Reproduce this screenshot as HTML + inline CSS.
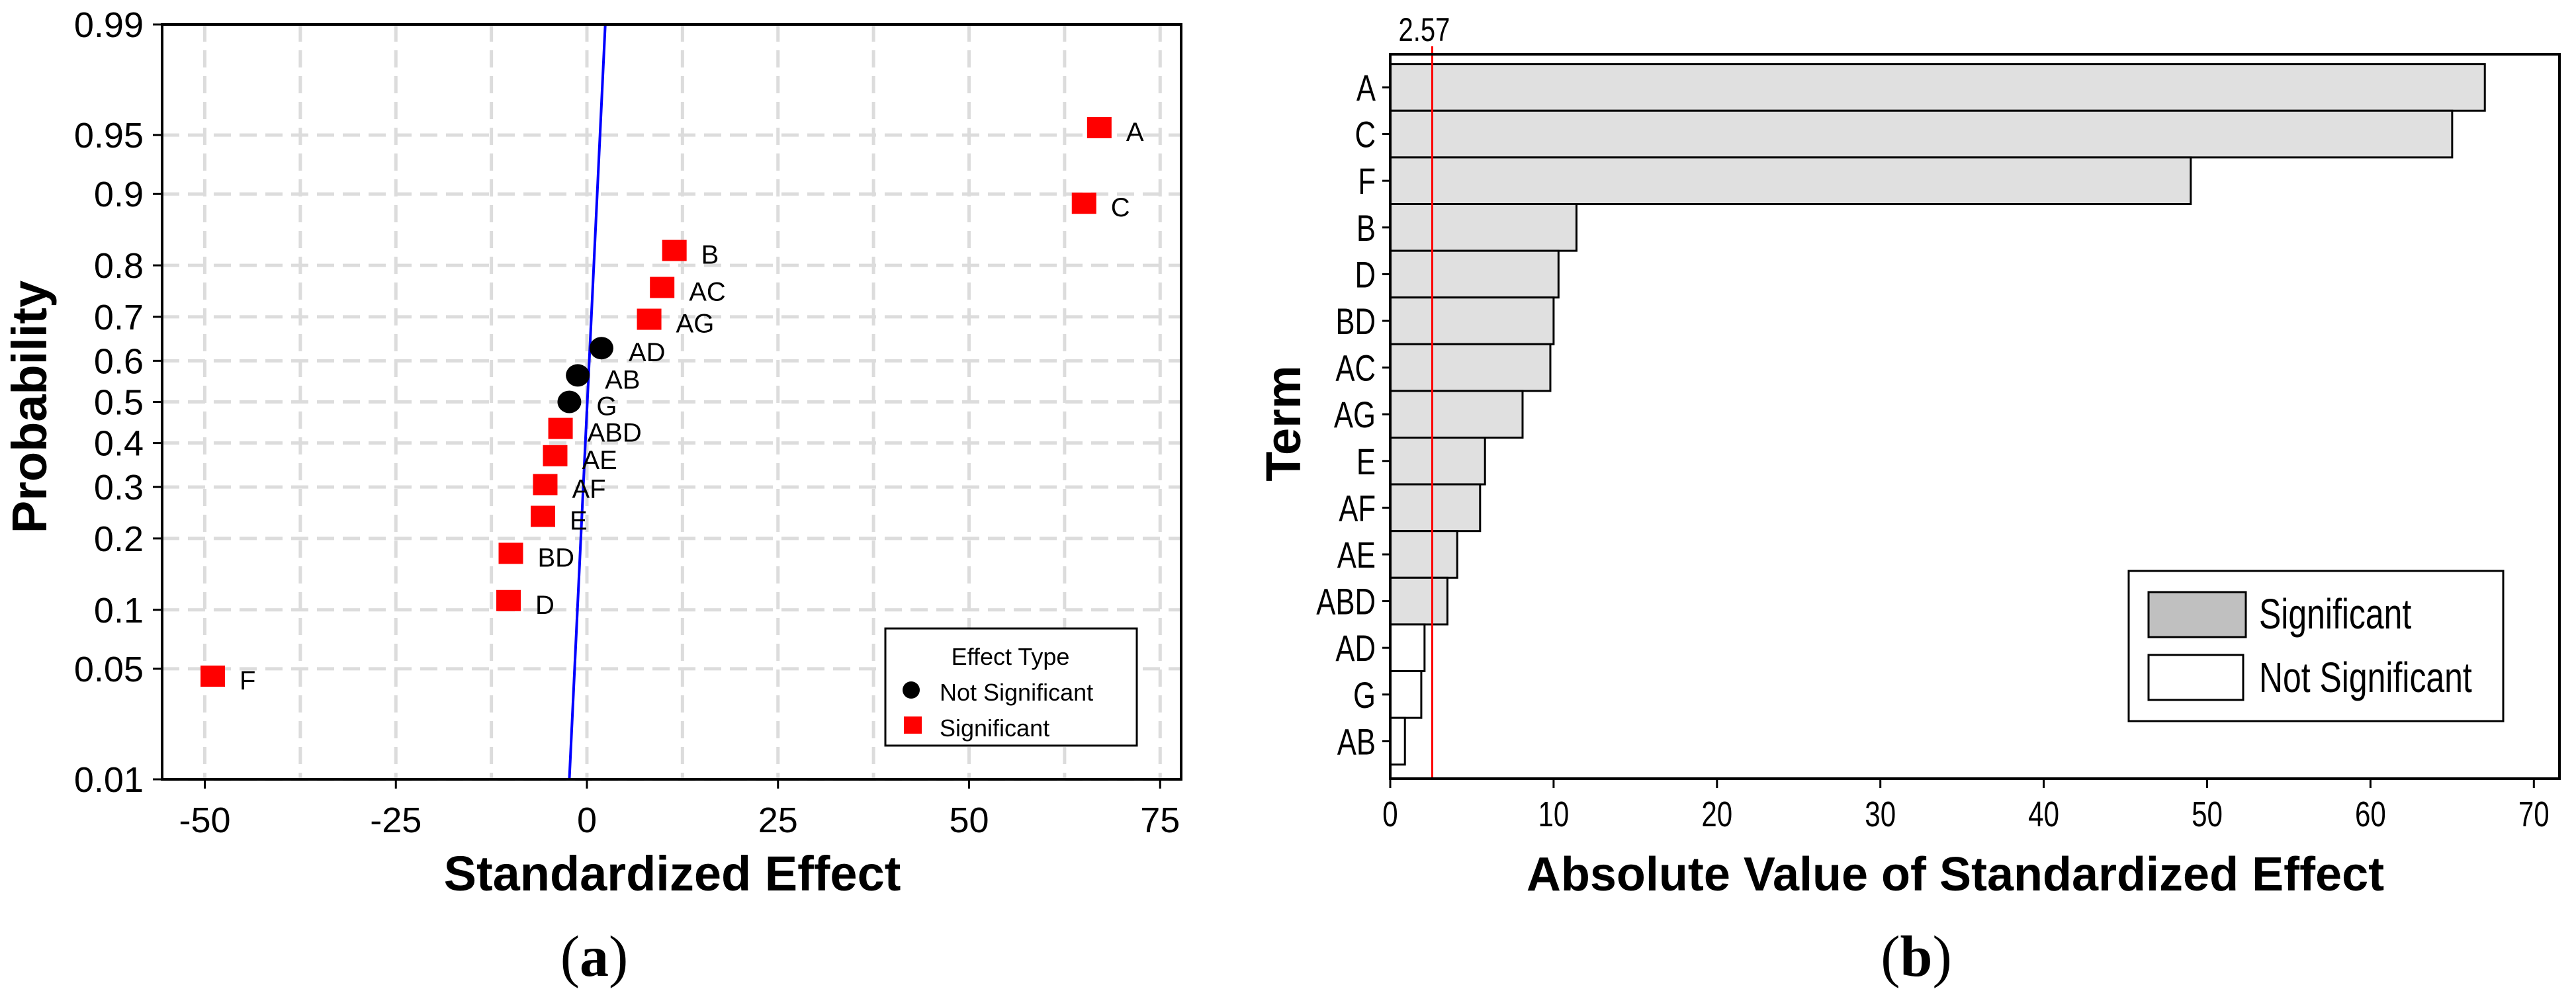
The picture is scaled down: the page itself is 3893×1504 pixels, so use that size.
<!DOCTYPE html>
<html><head><meta charset="utf-8">
<style>
html,body{margin:0;padding:0;background:#fff;}
svg{display:block;font-family:"Liberation Sans",sans-serif;}
</style></head>
<body>
<svg id="root" width="3893" height="1504" viewBox="0 0 3893 1504" xmlns="http://www.w3.org/2000/svg">
<g id="left"></g>
<g id="right"></g>
</svg>
<script>
// ---- Left chart data (normal probability plot) ----
const effTerms = ["F","D","BD","E","AF","AE","ABD","G","AB","AD","AG","AC","B","C","A"];
const effValues = [-49,-10.3,-10,-5.8,-5.5,-4.2,-3.5,-2.3,-1.2,1.9,8.1,9.8,11.4,65,67];
const effSignificant = [1,1,1,1,1,1,1,0,0,0,1,1,1,1,1];
const xTicks = [-50,-25,0,25,50,75];
const yTicks = [0.01,0.05,0.1,0.2,0.3,0.4,0.5,0.6,0.7,0.8,0.9,0.95,0.99];
const yTickLabels = ["0.01","0.05","0.1","0.2","0.3","0.4","0.5","0.6","0.7","0.8","0.9","0.95","0.99"];
const refLine = [[-2.3,0.01],[2.4,0.99]];

// ---- Right chart data (Pareto) ----
const barTerms = ["A","C","F","B","D","BD","AC","AG","E","AF","AE","ABD","AD","G","AB"];
const barValues = [67,65,49,11.4,10.3,10,9.8,8.1,5.8,5.5,4.1,3.5,2.1,1.9,0.9];
const barTicks = [0,10,20,30,40,50,60,70];
const critValue = 2.57;

const NS="http://www.w3.org/2000/svg";
function mk(parent,tag,attrs,text){const e=document.createElementNS(NS,tag);for(const k in attrs)e.setAttribute(k,attrs[k]);if(text!==undefined)e.textContent=text;parent.appendChild(e);return e;}

function qnorm(p){const a=[-39.6968302866538,220.946098424521,-275.928510446969,138.357751867269,-30.6647980661472,2.50662827745924],b=[-54.4760987982241,161.585836858041,-155.698979859887,66.8013118877197,-13.2806815528857],c=[-0.00778489400243029,-0.322396458041136,-2.40075827716184,-2.54973253934373,4.37466414146497,2.93816398269878],d=[0.00778469570904146,0.32246712907004,2.445134137143,3.75440866190742];const pl=0.02425;let q,r;if(p<pl){q=Math.sqrt(-2*Math.log(p));return(((((c[0]*q+c[1])*q+c[2])*q+c[3])*q+c[4])*q+c[5])/((((d[0]*q+d[1])*q+d[2])*q+d[3])*q+1);}if(p>1-pl){q=Math.sqrt(-2*Math.log(1-p));return-(((((c[0]*q+c[1])*q+c[2])*q+c[3])*q+c[4])*q+c[5])/((((d[0]*q+d[1])*q+d[2])*q+d[3])*q+1);}q=p-0.5;r=q*q;return(((((a[0]*r+a[1])*r+a[2])*r+a[3])*r+a[4])*r+a[5])*q/(((((b[0]*r+b[1])*r+b[2])*r+b[3])*r+b[4])*r+1);}

// ===== LEFT =====
const L=document.getElementById('left');
const lx0=245,lx1=1785,ly0=37,ly1=1178;
const zMax=qnorm(0.99);
const xs=v=>887+v*11.55;
const ys=p=>(ly0+ly1)/2 - qnorm(p)/zMax*(ly1-ly0)/2;
for(let v=-50;v<=75;v+=12.5){
  const g=mk(L,'line',{x1:xs(v),x2:xs(v),y1:ly0,y2:ly1,stroke:'#dcdcdc','stroke-width':5,'stroke-dasharray':'26 13'});
  
  
}
yTicks.forEach(p=>{
  const g=mk(L,'line',{x1:lx0,x2:lx1,y1:ys(p),y2:ys(p),stroke:'#dcdcdc','stroke-width':5,'stroke-dasharray':'26 13'});
  
  
});
const rl=mk(L,'line',{x1:xs(refLine[0][0]),y1:ys(refLine[0][1]),x2:xs(refLine[1][0]),y2:ys(refLine[1][1]),stroke:'#0000ff','stroke-width':4});


effTerms.forEach((t,i)=>{
  const p=(i+1-0.3)/(effTerms.length+0.4);
  const cx=xs(effValues[i]),cy=ys(p);
  let m;
  if(effSignificant[i]) m=mk(L,'rect',{x:cx-18,y:cy-16,width:37,height:32,fill:'#ff0000'});
  else m=mk(L,'ellipse',{cx:cx,cy:cy,rx:18,ry:17,fill:'#000'});
  
  
  const lb=mk(L,'text',{x:cx+41,y:cy+20,'font-size':40,fill:'#000'},t);
  
  
});
const lf=mk(L,'rect',{x:lx0,y:ly0,width:lx1-lx0,height:ly1-ly0,fill:'none',stroke:'#000','stroke-width':4});


xTicks.forEach(v=>{
  const tk=mk(L,'line',{x1:xs(v),x2:xs(v),y1:ly1,y2:ly1+14,stroke:'#000','stroke-width':3});
  
  
  const tl=mk(L,'text',{x:xs(v),y:ly1+80,'font-size':54,'text-anchor':'middle'},String(v));
  
  
});
yTicks.forEach((p,i)=>{
  const tk=mk(L,'line',{x1:lx0-14,x2:lx0,y1:ys(p),y2:ys(p),stroke:'#000','stroke-width':3});
  
  
  const tl=mk(L,'text',{x:lx0-28,y:ys(p)+19,'font-size':54,'text-anchor':'end'},yTickLabels[i]);
  
  
});
let t1=mk(L,'text',{x:1016,y:1346,'font-size':74,'font-weight':'bold','text-anchor':'middle'},'Standardized Effect');

let t2=mk(L,'text',{x:0,y:0,'font-size':74,'font-weight':'bold','text-anchor':'middle',transform:'translate(70,615) rotate(-90)'},'Probability');

let t3=mk(L,'text',{x:898,y:1475,'font-size':88,'text-anchor':'middle','font-family':'Liberation Serif, serif'},'');

mk(t3,'tspan',{},'(');mk(t3,'tspan',{'font-weight':'bold'},'a');mk(t3,'tspan',{},')');
const lg=mk(L,'g',{});

mk(lg,'rect',{x:1338,y:950,width:380,height:177,fill:'#fff',stroke:'#000','stroke-width':3});
mk(lg,'text',{x:1527,y:1005,'font-size':36,'text-anchor':'middle'},'Effect Type');
const le1=mk(lg,'circle',{cx:1377,cy:1043,r:13,fill:'#000'});

mk(lg,'text',{x:1420,y:1059,'font-size':36},'Not Significant');
const le2=mk(lg,'rect',{x:1366,y:1083,width:27,height:26,fill:'#ff0000'});

mk(lg,'text',{x:1420,y:1113,'font-size':36},'Significant');

// ===== RIGHT =====
const R=document.getElementById('right');
const rx0=2101,rx1=3868,ry0=82,ry1=1177;
const bx=v=>rx0+v*24.69;
const step=70.6, firstC=132;
barValues.forEach((v,i)=>{
  const cy=firstC+i*step;
  const sig=v>critValue;
  const b=mk(R,'rect',{x:rx0,y:cy-step/2,width:bx(v)-rx0,height:step,fill:sig?'#e0e0e0':'#fff',stroke:'#000','stroke-width':3});
  
  
  const tk=mk(R,'line',{x1:rx0-12,x2:rx0,y1:cy,y2:cy,stroke:'#000','stroke-width':3});
  
  const tl=mk(R,'text',{x:0,y:0,'font-size':56,'text-anchor':'end',transform:`translate(${rx0-22},${cy+20}) scale(0.78,1)`},barTerms[i]);
  
});
const cl=mk(R,'line',{x1:bx(critValue),x2:bx(critValue),y1:ry0-12,y2:ry1,stroke:'#ff0000','stroke-width':3});

const cll=mk(R,'text',{x:0,y:0,'font-size':50,'text-anchor':'middle',transform:`translate(${bx(critValue)-12},62) scale(0.8,1)`},String(critValue));

const rf=mk(R,'rect',{x:rx0,y:ry0,width:rx1-rx0,height:ry1-ry0,fill:'none',stroke:'#000','stroke-width':4});

barTicks.forEach(v=>{
  const tk=mk(R,'line',{x1:bx(v),x2:bx(v),y1:ry1,y2:ry1+14,stroke:'#000','stroke-width':3});
  
  const tl=mk(R,'text',{x:0,y:0,'font-size':54,'text-anchor':'middle',transform:`translate(${bx(v)},${ry1+72}) scale(0.78,1)`},String(v));
  
});
let r1=mk(R,'text',{x:2955,y:1346,'font-size':72,'font-weight':'bold','text-anchor':'middle'},'Absolute Value of Standardized Effect');

let r2=mk(R,'text',{x:0,y:0,'font-size':74,'font-weight':'bold','text-anchor':'middle',transform:'translate(1965,640) rotate(-90)'},'Term');

let r3=mk(R,'text',{x:2896,y:1475,'font-size':88,'text-anchor':'middle','font-family':'Liberation Serif, serif'},'');

mk(r3,'tspan',{},'(');mk(r3,'tspan',{'font-weight':'bold'},'b');mk(r3,'tspan',{},')');
const rg=mk(R,'g',{});

mk(rg,'rect',{x:3217,y:863,width:566,height:227,fill:'#fff',stroke:'#000','stroke-width':3});
const s1=mk(rg,'rect',{x:3247,y:895,width:147,height:68,fill:'#c0c0c0',stroke:'#000','stroke-width':3});

mk(rg,'text',{x:0,y:0,'font-size':64,transform:'translate(3414,950) scale(0.78,1)'},'Significant');
const s2=mk(rg,'rect',{x:3247,y:990,width:143,height:68,fill:'#fff',stroke:'#000','stroke-width':3});

mk(rg,'text',{x:0,y:0,'font-size':64,transform:'translate(3414,1046) scale(0.78,1)'},'Not Significant');
</script>
</body></html>
